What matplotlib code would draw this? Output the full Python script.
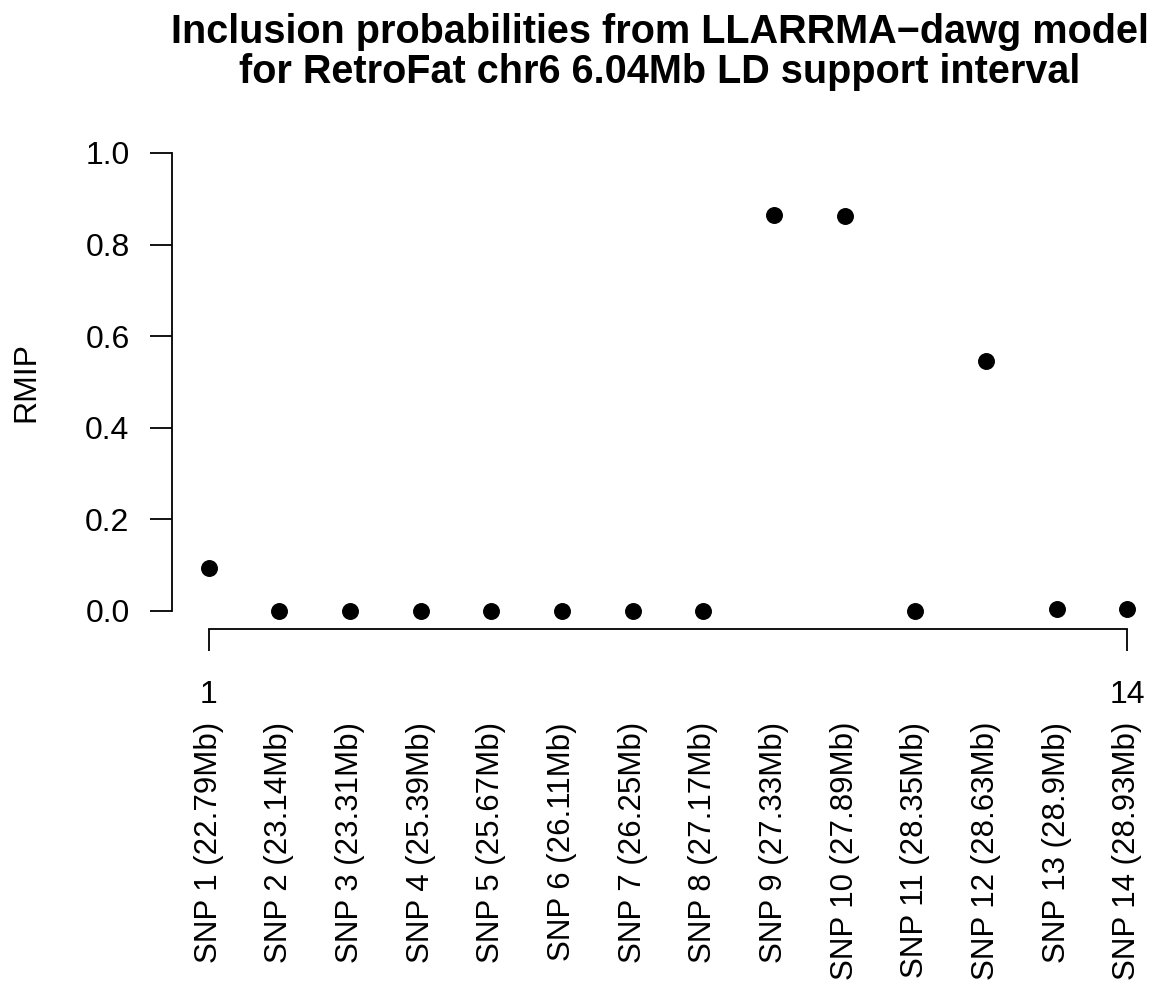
import matplotlib.pyplot as plt
import matplotlib.transforms as mtransforms
import numpy as np

plt.rcParams['font.family'] = ['Liberation Sans', 'DejaVu Sans']

snp_pos = ["22.79", "23.14", "23.31", "25.39", "25.67", "26.11", "26.25",
           "27.17", "27.33", "27.89", "28.35", "28.63", "28.9", "28.93"]
rmip = [0.094, 0.0, 0.0, 0.0, 0.0, 0.0, 0.0, 0.0, 0.865, 0.862, 0.0, 0.546, 0.004, 0.004]
snp_labels = ["SNP %d (%sMb)" % (i + 1, p) for i, p in enumerate(snp_pos)]
title_lines = ["Inclusion probabilities from LLARRMA\u2212dawg model",
               "for RetroFat chr6 6.04Mb LD support interval"]
x = np.arange(1, len(rmip) + 1)

fig = plt.figure(figsize=(11.69, 9.86), dpi=100)
ax = fig.add_axes([0.1471, 0.362, 0.8486, 0.5014])

ax.scatter(x, rmip, s=125, c="black", zorder=3)
ax.set_xlim(0.48, 14.52)
ax.set_ylim(-0.04, 1.04)

for s in ["top", "right"]:
    ax.spines[s].set_visible(False)
ax.spines["left"].set_bounds(0, 1)
ax.spines["bottom"].set_bounds(1, 14)
for s in ["left", "bottom"]:
    ax.spines[s].set_linewidth(1.3)

ax.set_yticks([0, 0.2, 0.4, 0.6, 0.8, 1.0])
ax.set_yticklabels(["0.0", "0.2", "0.4", "0.6", "0.8", "1.0"])
ax.set_xticks([1, 14])
ax.set_xticklabels(["1", "14"])
ax.tick_params(axis="both", length=15.5, width=1.3, labelsize=23, pad=15)
ax.tick_params(axis="x", pad=21)

fig.text(26 / 1169, 1 - 382 / 986, "RMIP", rotation=90, ha="center", va="center",
         fontsize=23)

# SNP names under the axis
trans = mtransforms.blended_transform_factory(ax.transData, fig.transFigure)
for xi, lab in zip(x, snp_labels):
    ax.text(xi, 1 - 722 / 986, lab, transform=trans, rotation=90, ha="center",
            va="top", fontsize=22.5)

fig.text(660 / 1169, 1 - 43 / 986, title_lines[0], ha="center", va="baseline",
         fontsize=28.5, fontweight="bold")
fig.text(660 / 1169, 1 - 83 / 986, title_lines[1], ha="center", va="baseline",
         fontsize=28.5, fontweight="bold")

fig.savefig("out.png", dpi=100)
